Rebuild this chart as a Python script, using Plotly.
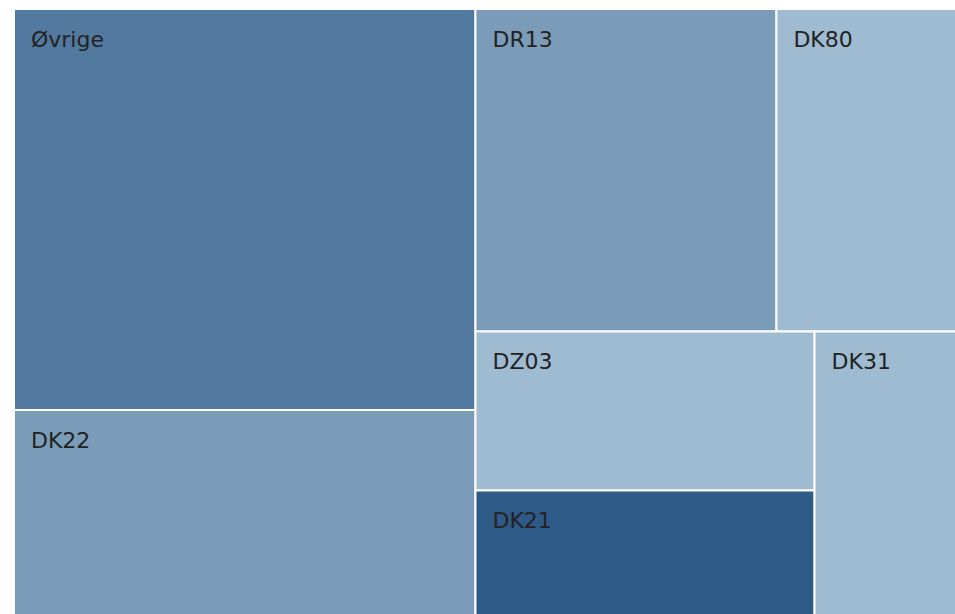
import plotly.graph_objects as go

labels = ["Øvrige", "DK22", "DR13", "DK80", "DZ03", "DK21", "DK31"]
values = [183540, 94300, 96300, 57780, 53404, 42250, 40186]
colors = ["#527aa0", "#7a9cb8", "#7a9cb8", "#9fbbd1", "#9fbbd1", "#2e5a87", "#9fbbd1"]

fig = go.Figure(go.Treemap(
    labels=labels,
    parents=[""] * len(labels),
    values=values,
    sort=False,
    marker=dict(colors=colors, line=dict(color="white", width=2),
                pad=dict(t=0, l=0, r=0, b=0)),
    textposition="top left",
    textfont=dict(family="DejaVu Sans", size=22, color="#222222"),
    texttemplate="<span style='font-size:6px'> </span><br>\u00a0\u00a0%{label}",
    tiling=dict(squarifyratio=1.618034, pad=0),
    pathbar=dict(visible=False),
))
fig.update_layout(
    width=957, height=616,
    margin=dict(l=14, r=0, t=9, b=0),
    paper_bgcolor="white",
)
fig.write_html(
    "out.html",
    config={"displayModeBar": False},
    post_script="document.body.style.margin='0';document.body.style.overflow='hidden';",
)
